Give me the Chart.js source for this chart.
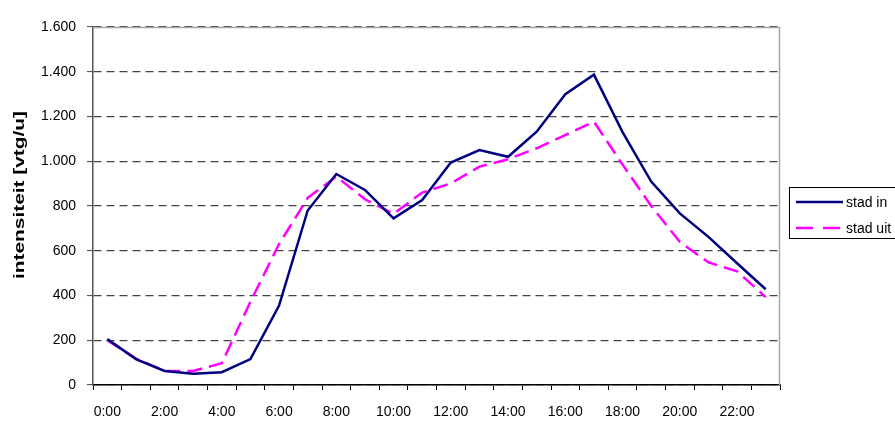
<!DOCTYPE html>
<html>
<head>
<meta charset="utf-8">
<script src="https://cdn.jsdelivr.net/npm/chart.js@4/dist/chart.umd.min.js"></script>
<style>
  html, body { margin: 0; padding: 0; background: #fff; }
  #wrap { width: 895px; height: 421px; position: relative; }
</style>
</head>
<body>
<div id="wrap"><canvas id="chart" width="895" height="421"></canvas></div>
<script>
// uren van de dag
const hours = ["0:00", "1:00", "2:00", "3:00", "4:00", "5:00", "6:00", "7:00",
    "8:00", "9:00", "10:00", "11:00", "12:00", "13:00", "14:00", "15:00",
    "16:00", "17:00", "18:00", "19:00", "20:00", "21:00", "22:00", "23:00"];

// intensiteit [vtg/u]
const stadIn = [205, 116, 63, 50, 57, 116, 355, 780, 943, 872, 745, 827,
    994, 1050, 1020, 1132, 1300, 1387, 1130, 909, 767, 662, 544, 428];
const stadUit = [200, 118, 63, 63, 97, 372, 630, 836, 932, 830, 765, 860,
    901, 976, 1009, 1058, 1117, 1177, 985, 800, 640, 548, 508, 393];

const yTicks = [0, 200, 400, 600, 800, 1000, 1200, 1400, 1600];
const yTitle = "intensiteit [vtg/u]";

function dutchNumber(v) {
    return String(v).replace(/\B(?=(\d{3})+(?!\d))/g, ".");
}

const fontFam = "'Liberation Sans', Arial, sans-serif";

// grijze rand om het plotgebied
const plotBorder = {
    id: "plotBorder",
    beforeDatasetsDraw(chart) {
        const a = chart.chartArea;
        const c = chart.ctx;
        c.save();
        c.strokeStyle = "#a6a6a6";
        c.lineWidth = 1.5;
        c.beginPath();
        c.moveTo(a.left, a.top + 0.5);
        c.lineTo(a.right - 0.5, a.top + 0.5);
        c.lineTo(a.right - 0.5, a.bottom);
        c.stroke();
        c.restore();
    }
};

// astitel, uitgerekt zoals in de Excel-grafiek
const axisTitle = {
    id: "axisTitle",
    afterDraw(chart) {
        const c = chart.ctx;
        c.save();
        c.font = "bold 15px " + fontFam;
        const w = c.measureText(yTitle).width;
        c.translate(20, 195);
        c.rotate(-Math.PI / 2);
        c.scale(168 / w, 1);
        c.textAlign = "center";
        c.textBaseline = "middle";
        c.fillStyle = "#000";
        c.fillText(yTitle, 0, 0);
        c.restore();
    }
};

// legenda met kader, rechts (loopt buiten beeld zoals het origineel)
const boxLegend = {
    id: "boxLegend",
    afterDraw(chart) {
        const c = chart.ctx;
        const x = 789.5, y = 187.5, w = 130, h = 51;
        c.save();
        c.fillStyle = "#fff";
        c.fillRect(x, y, w, h);
        c.strokeStyle = "#000";
        c.lineWidth = 1;
        c.strokeRect(x, y, w, h);
        c.font = "14px " + fontFam;
        c.textBaseline = "middle";
        chart.data.datasets.forEach((ds, i) => {
            const ly = 202 + i * 26;
            c.strokeStyle = ds.borderColor;
            c.lineWidth = 2.5;
            c.setLineDash(i === 0 ? [] : [17, 10]);
            c.beginPath();
            c.moveTo(796, ly);
            c.lineTo(843, ly);
            c.stroke();
            c.setLineDash([]);
            c.fillStyle = "#000";
            c.fillText(ds.label, 846, ly + 1);
        });
        c.restore();
    }
};

new Chart(document.getElementById("chart"), {
    type: "line",
    data: {
        labels: hours,
        datasets: [{
            label: "stad in",
            data: stadIn,
            borderColor: "#000080",
            borderWidth: 2.5,
            pointRadius: 0,
            tension: 0,
            fill: false
        },
        {
            label: "stad uit",
            data: stadUit,
            borderColor: "#ff00ff",
            borderWidth: 2.5,
            borderDash: [15, 7],
            pointRadius: 0,
            tension: 0,
            fill: false
        }]
    },
    options: {
        responsive: false,
        animation: false,
        devicePixelRatio: 1,
        layout: { padding: { top: 27, right: 115, left: 0, bottom: 0 } },
        plugins: {
            legend: { display: false },
            tooltip: { enabled: false }
        },
        scales: {
            x: {
                offset: true,
                grid: {
                    offset: true,
                    drawOnChartArea: false,
                    drawTicks: true,
                    tickLength: 5,
                    tickColor: "#000",
                    tickWidth: 1
                },
                border: { color: "#000", width: 1.5 },
                ticks: {
                    autoSkip: false,
                    maxRotation: 0,
                    padding: 14,
                    color: "#000",
                    font: { family: fontFam, size: 14 },
                    callback: function (v, i) { return i % 2 === 0 ? hours[i] : ""; }
                },
                afterFit(scale) { scale.height = 36; }
            },
            y: {
                min: 0,
                max: 1600,
                afterBuildTicks(scale) { scale.ticks = yTicks.map(v => ({ value: v })); },
                grid: {
                    color: "#444",
                    lineWidth: 1.2,
                    drawTicks: true,
                    tickLength: 6,
                    tickColor: "#444",
                    tickBorderDash: [],
                    tickWidth: 1
                },
                border: { color: "#555", width: 1.5, dash: [8, 5] },
                ticks: {
                    padding: 11,
                    color: "#000",
                    font: { family: fontFam, size: 14 },
                    callback: v => dutchNumber(v)
                },
                title: { display: false },
                afterFit(scale) { scale.width = 93; }
            }
        }
    },
    plugins: [plotBorder, axisTitle, boxLegend]
});
</script>
</body>
</html>
